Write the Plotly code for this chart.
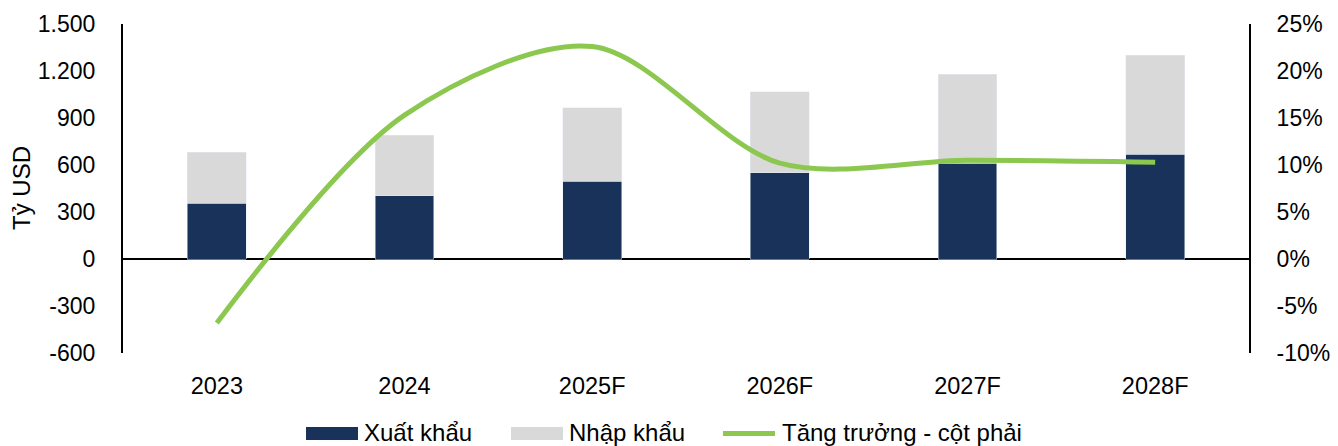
import plotly.graph_objects as go

categories = ["2023", "2024", "2025F", "2026F", "2027F", "2028F"]
xuat_khau = [355, 404, 496, 549, 611, 668]
nhap_khau = [328, 386, 470, 517, 568, 632]
tang_truong = [-0.068, 0.153, 0.226, 0.102, 0.105, 0.103]

left_tickvals = [-600, -300, 0, 300, 600, 900, 1200, 1500]
left_ticktext = ["-600", "-300", "0", "300", "600", "900", "1.200", "1.500"]
right_tickvals = [-0.10, -0.05, 0, 0.05, 0.10, 0.15, 0.20, 0.25]
right_ticktext = ["-10%", "-5%", "0%", "5%", "10%", "15%", "20%", "25%"]

NAVY = "#18325A"
GRAY = "#D9D9D9"
GREEN = "#8CC84F"
FONT = "Liberation Sans, Arial, sans-serif"
FS = 24
TFS = 23

fig = go.Figure()
fig.add_trace(go.Bar(x=categories, y=xuat_khau, name="Xuất khẩu", marker_color=NAVY, width=0.314))
fig.add_trace(go.Bar(x=categories, y=nhap_khau, name="Nhập khẩu", marker_color=GRAY, width=0.314))
fig.add_trace(go.Scatter(x=categories, y=tang_truong, name="Tăng trưởng - cột phải", yaxis="y2",
                         mode="lines", line=dict(color=GREEN, width=5, shape="spline", smoothing=0.9)))

L, R, T, B = 123, 89, 24, 93
W, H = 1338, 446
pw = W - L - R
ph = H - T - B

def px(x):
    return (x - L) / pw

def py(y):
    return (H - B - y) / ph

shapes = [
    dict(type="rect", xref="paper", yref="paper", x0=px(306), x1=px(358), y0=py(440), y1=py(427),
         fillcolor=NAVY, line=dict(width=0)),
    dict(type="rect", xref="paper", yref="paper", x0=px(511), x1=px(563), y0=py(440), y1=py(427),
         fillcolor=GRAY, line=dict(width=0)),
    dict(type="line", xref="paper", yref="paper", x0=px(723), x1=px(775), y0=py(433.5), y1=py(433.5),
         line=dict(color=GREEN, width=5)),
]
annotations = [
    dict(text="Tỷ USD", x=px(21), y=py(188), xref="paper", yref="paper", xanchor="center", yanchor="middle",
         textangle=-90, showarrow=False, font=dict(size=FS, color="black", family=FONT)),
    dict(text="Xuất khẩu", x=px(362), y=py(432), xref="paper", yref="paper", xanchor="left", yanchor="middle",
         showarrow=False, font=dict(size=FS, color="black", family=FONT)),
    dict(text="Nhập khẩu", x=px(567), y=py(432), xref="paper", yref="paper", xanchor="left", yanchor="middle",
         showarrow=False, font=dict(size=FS, color="black", family=FONT)),
    dict(text="Tăng trưởng - cột phải", x=px(780), y=py(432), xref="paper", yref="paper", xanchor="left",
         yanchor="middle", showarrow=False, font=dict(size=FS, color="black", family=FONT)),
]

fig.update_layout(
    width=W, height=H,
    margin=dict(l=L, r=R, t=T, b=B, pad=0, autoexpand=False),
    barmode="stack",
    showlegend=False,
    plot_bgcolor="white", paper_bgcolor="white",
    font=dict(family=FONT, size=FS, color="black"),
    xaxis=dict(type="category", range=[-0.5, 5.5], showgrid=False, showline=False, zeroline=False,
               automargin=False,
               ticks="outside", ticklen=12, tickcolor="rgba(0,0,0,0)", tickfont=dict(size=23.5)),
    yaxis=dict(range=[-600, 1500], tickvals=left_tickvals, ticktext=left_ticktext, showgrid=False,
               automargin=False, tickfont=dict(size=TFS),
               showline=True, linecolor="black", linewidth=2, zeroline=True, zerolinecolor="black",
               zerolinewidth=2, ticks="outside", ticklen=21, tickcolor="rgba(0,0,0,0)"),
    yaxis2=dict(range=[-0.10, 0.25], tickvals=right_tickvals, ticktext=right_ticktext, overlaying="y",
                automargin=False, tickfont=dict(size=TFS),
                side="right", showgrid=False, showline=True, linecolor="black", linewidth=2, zeroline=False,
                ticks="outside", ticklen=21, tickcolor="rgba(0,0,0,0)"),
    shapes=shapes,
    annotations=annotations,
)

fig.write_html("out.html", config={"displayModeBar": False},
               post_script="document.body.style.margin='0';document.body.style.overflow='hidden';")
